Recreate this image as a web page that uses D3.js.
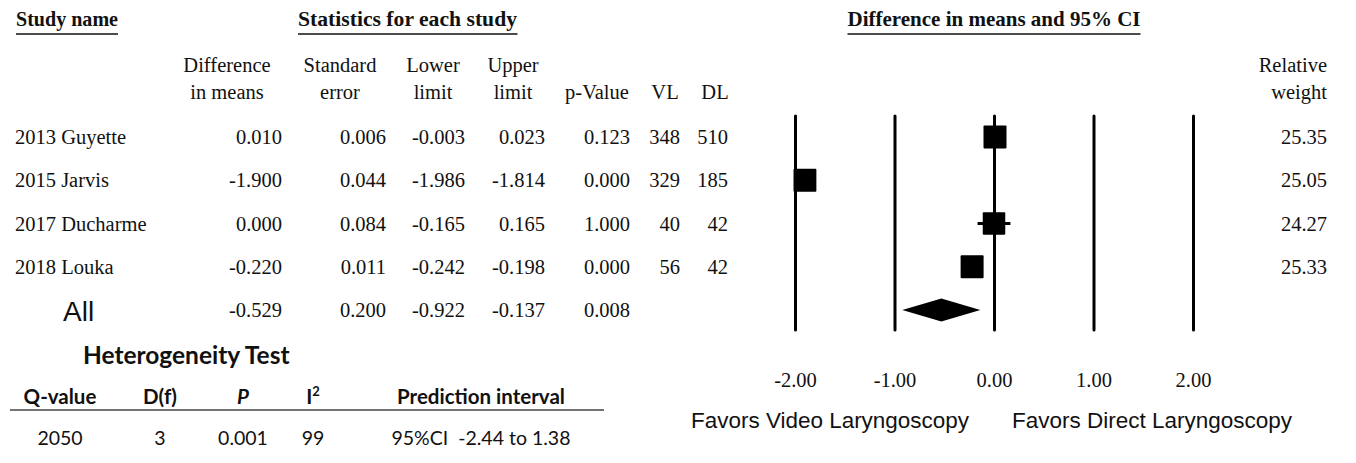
<!DOCTYPE html>
<html>
<head>
<meta charset="utf-8">
<script src="https://cdn.jsdelivr.net/npm/d3@7"></script>
<style>
  html, body { margin: 0; padding: 0; background: #fff; }
  svg { display: block; }
  .serif { font-family: "Liberation Serif", "Times New Roman", serif; fill: #111; }
  .sans { font-family: "Liberation Sans", Arial, sans-serif; fill: #111; }
  .cal { font-family: Lato, "Open Sans", sans-serif; fill: #111; }
</style>
</head>
<body>
<svg id="chart" width="1356" height="463"></svg>
<script>
// ---------- data ----------
const studies   = ["2013 Guyette", "2015 Jarvis", "2017 Ducharme", "2018 Louka"];
const diffMeans = [0.010, -1.900, 0.000, -0.220];
const stdErr    = [0.006, 0.044, 0.084, 0.011];
const lowerLim  = [-0.003, -1.986, -0.165, -0.242];
const upperLim  = [0.023, -1.814, 0.165, -0.198];
const pValues   = [0.123, 0.000, 1.000, 0.000];
const nVL       = [348, 329, 40, 56];
const nDL       = [510, 185, 42, 42];
const relWeight = [25.35, 25.05, 24.27, 25.33];

const summaryLabel = "All";
const summaryStats = [-0.529, 0.200, -0.922, -0.137, 0.008]; // diff, se, lower, upper, p

const axisTicks = [-2, -1, 0, 1, 2];
const favorsLabels = ["Favors Video Laryngoscopy", "Favors Direct Laryngoscopy"];

const hetHeaders = ["Q-value", "D(f)", "P", "I", "Prediction interval"];
const hetValues  = ["2050", "3", "0.001", "99", "95%CI  -2.44 to 1.38"];

// ---------- layout ----------
const svg = d3.select("#chart");
const rowY = d3.scalePoint().domain(d3.range(studies.length + 1)).range([137, 310]);
const x = d3.scaleLinear().domain([-2, 2]).range([795, 1193]);
const side = d3.scaleSqrt().domain([0, 25.35]).range([0, 23]);
const plotTop = 116, plotBottom = 330;

const FS = 20.5;

// Top titles
function uTitle(text, x0, y, anchor, len) {
  const t = svg.append("text").attr("class", "serif")
    .attr("x", x0).attr("y", y).attr("text-anchor", anchor || "start")
    .attr("font-size", 21).attr("font-weight", "bold").text(text);
  if (len) t.attr("textLength", len).attr("lengthAdjust", "spacingAndGlyphs");
  const bb = t.node().getBBox();
  svg.append("line").attr("x1", bb.x).attr("x2", bb.x + bb.width)
    .attr("y1", y + 8).attr("y2", y + 8).attr("stroke", "#111").attr("stroke-width", 1.6);
}
uTitle("Study name", 16, 26, "start", 102);
uTitle("Statistics for each study", 298, 26, "start", 219);
uTitle("Difference in means and 95% CI", x(0), 26, "middle", 293);

// Column headers
const cols = [
  { h: ["Difference", "in means"], cx: 227, rx: 282 },
  { h: ["Standard", "error"], cx: 340, rx: 386 },
  { h: ["Lower", "limit"], cx: 433, rx: 465 },
  { h: ["Upper", "limit"], cx: 513, rx: 545 },
  { h: ["", "p-Value"], cx: 597, rx: 630 },
  { h: ["", "VL"], cx: 665, rx: 680 },
  { h: ["", "DL"], cx: 715, rx: 728 }
];
cols.forEach(c => {
  c.h.forEach((line, i) => {
    if (!line) return;
    svg.append("text").attr("class", "serif").attr("font-size", FS)
      .attr("x", c.cx).attr("y", 72 + i * 27).attr("text-anchor", "middle").text(line);
  });
});
["Relative", "weight"].forEach((line, i) => {
  svg.append("text").attr("class", "serif").attr("font-size", FS)
    .attr("x", 1327).attr("y", 72 + i * 27).attr("text-anchor", "end").text(line);
});

// Study rows
const f3 = v => v.toFixed(3);
studies.forEach((s, i) => {
  const y = rowY(i) + 7;
  svg.append("text").attr("class", "serif").attr("font-size", FS)
    .attr("x", 15).attr("y", y).text(s);
  const vals = [f3(diffMeans[i]), f3(stdErr[i]), f3(lowerLim[i]), f3(upperLim[i]),
                f3(pValues[i]), String(nVL[i]), String(nDL[i])];
  vals.forEach((v, j) => {
    svg.append("text").attr("class", "serif").attr("font-size", FS)
      .attr("x", cols[j].rx).attr("y", y).attr("text-anchor", "end").text(v);
  });
  svg.append("text").attr("class", "serif").attr("font-size", FS)
    .attr("x", 1327).attr("y", y).attr("text-anchor", "end").text(relWeight[i].toFixed(2));
});

// Summary row
{
  const i = studies.length;
  const y = rowY(i) + 7;
  svg.append("text").attr("class", "sans").attr("font-size", 28)
    .attr("x", 63).attr("y", y + 4).text(summaryLabel);
  summaryStats.forEach((v, j) => {
    svg.append("text").attr("class", "serif").attr("font-size", FS)
      .attr("x", cols[j].rx).attr("y", y).attr("text-anchor", "end").text(f3(v));
  });
}

// Forest plot: vertical lines via axis
const axis = d3.axisBottom(x).tickValues(axisTicks)
  .tickFormat(d => d.toFixed(2)).tickSize(-(plotBottom - plotTop)).tickPadding(0);
const gAxis = svg.append("g").attr("transform", `translate(0,${plotBottom})`).call(axis);
gAxis.select(".domain").remove();
gAxis.selectAll(".tick line").attr("stroke", "#000").attr("stroke-width", 3).attr("stroke-linecap", "round");
gAxis.selectAll(".tick text").attr("class", "serif").attr("font-size", FS)
  .attr("y", 57).attr("dy", 0).attr("fill", "#111");

// CI lines and squares
const gMarks = svg.append("g");
studies.forEach((s, i) => {
  const y = rowY(i);
  gMarks.append("line").attr("x1", x(lowerLim[i])).attr("x2", x(upperLim[i]))
    .attr("y1", y).attr("y2", y).attr("stroke", "#000").attr("stroke-width", 3);
  const w = side(relWeight[i]);
  gMarks.append("rect").attr("x", x(diffMeans[i]) - w / 2).attr("y", y - w / 2)
    .attr("width", w).attr("height", w).attr("fill", "#000").attr("rx", 1);
});
// Summary diamond
{
  const y = rowY(studies.length);
  const [d, , lo, hi] = summaryStats;
  const h = 11.5;
  gMarks.append("path")
    .attr("d", `M${x(lo)},${y} L${x(d)},${y - h} L${x(hi)},${y} L${x(d)},${y + h} Z`)
    .attr("fill", "#000");
}

// Favors labels
svg.append("text").attr("class", "sans").attr("font-size", 22)
  .attr("x", 691).attr("y", 428).attr("textLength", 278).attr("lengthAdjust", "spacingAndGlyphs")
  .text(favorsLabels[0]);
svg.append("text").attr("class", "sans").attr("font-size", 22)
  .attr("x", 1012).attr("y", 428).attr("textLength", 280).attr("lengthAdjust", "spacingAndGlyphs")
  .text(favorsLabels[1]);

// Heterogeneity test
svg.append("text").attr("class", "cal").attr("font-size", 24.5).attr("font-weight", "bold")
  .attr("x", 83).attr("y", 364).text("Heterogeneity Test");
const hetX = [60, 160, 243, 313, 481];
hetHeaders.forEach((h, i) => {
  const t = svg.append("text").attr("class", "cal").attr("font-size", 20.5).attr("font-weight", "bold")
    .attr("x", hetX[i]).attr("y", 404).attr("text-anchor", "middle");
  if (h === "P") t.attr("font-style", "italic").text(h);
  else if (h === "I") { t.text(h); t.append("tspan").attr("font-size", 13).attr("dy", -8).text("2"); }
  else t.text(h);
});
svg.append("line").attr("x1", 10).attr("x2", 604).attr("y1", 410).attr("y2", 410)
  .attr("stroke", "#444").attr("stroke-width", 1.5);
hetValues.forEach((v, i) => {
  svg.append("text").attr("class", "cal").attr("font-size", 19.5)
    .attr("x", hetX[i]).attr("y", 445).attr("text-anchor", "middle")
    .attr("xml:space", "preserve").text(v);
});
</script>
</body>
</html>
